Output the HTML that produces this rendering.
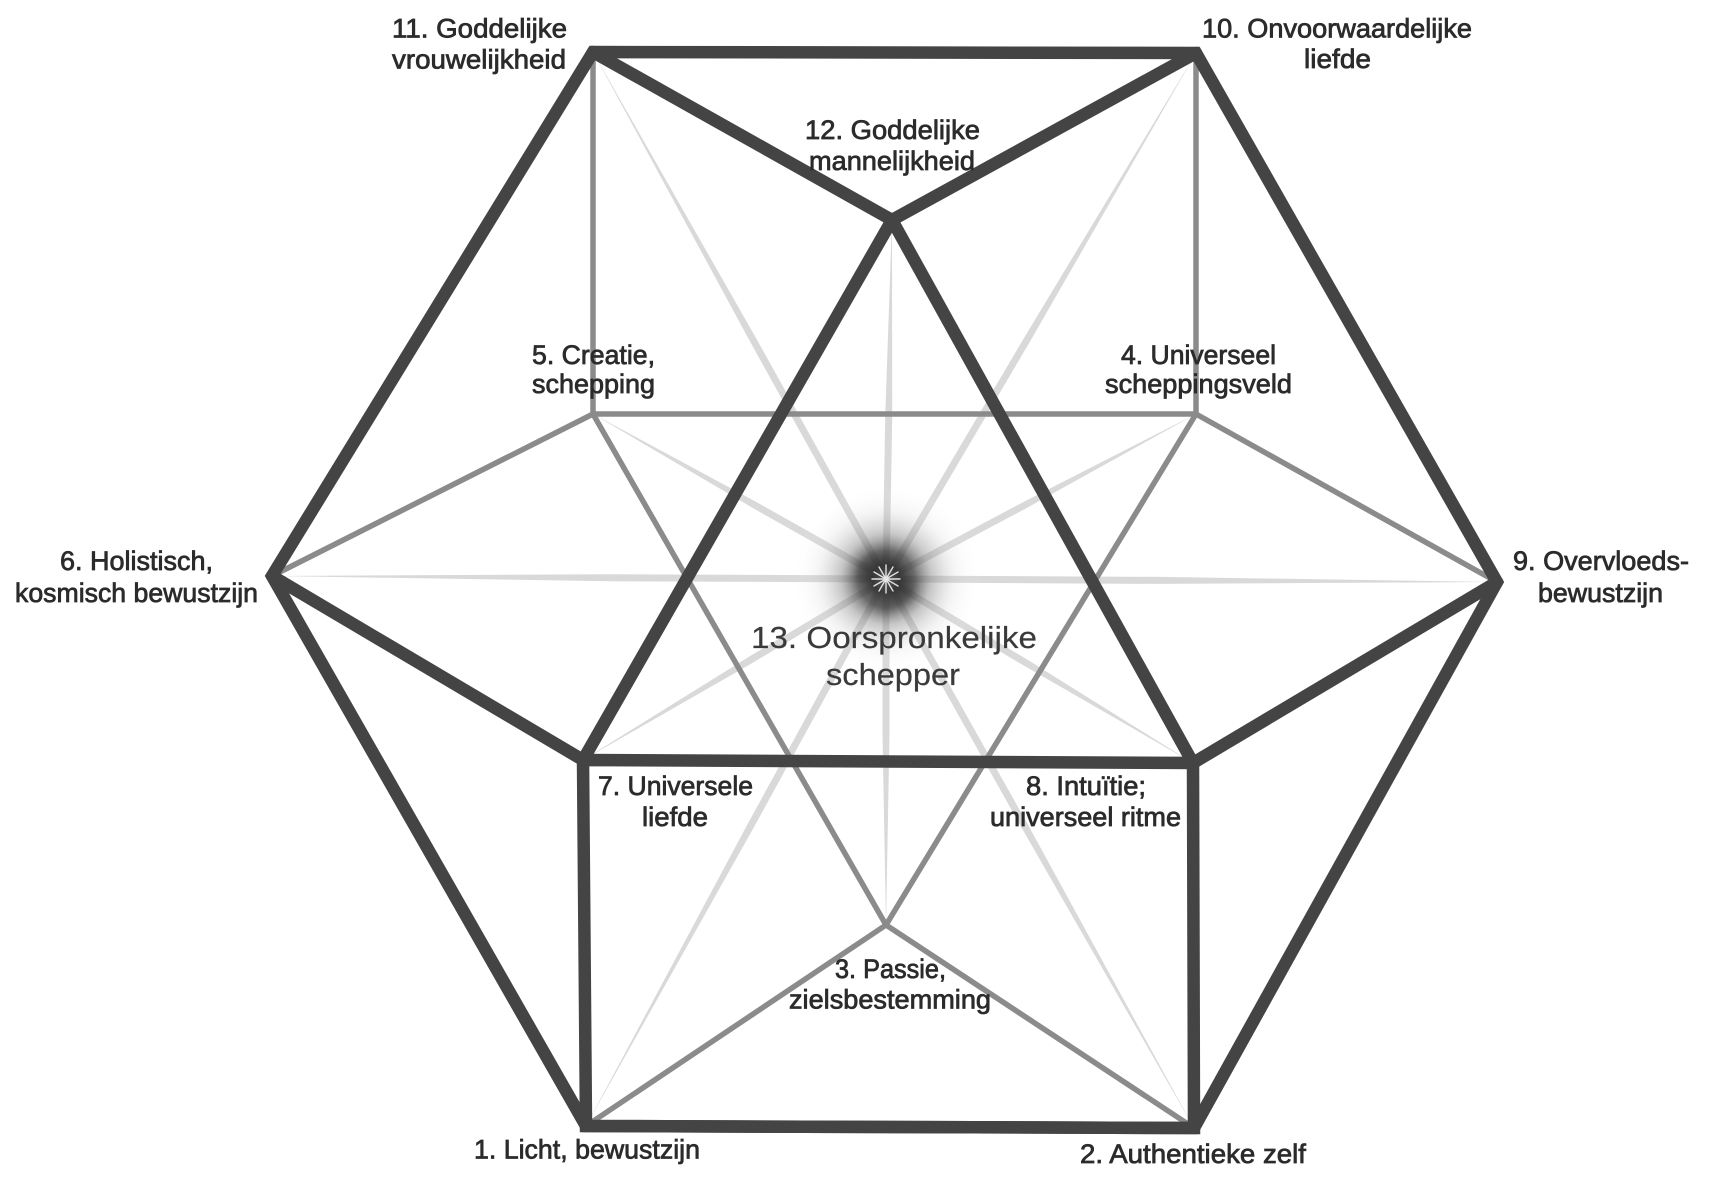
<!DOCTYPE html>
<html>
<head>
<meta charset="utf-8">
<style>
  html, body { margin:0; padding:0; background:#ffffff; }
  body { width:1723px; height:1181px; overflow:hidden; }
  svg { display:block; }
  text { font-family: "Liberation Sans", "DejaVu Sans", sans-serif; fill:#2b2b2b; font-size:26.5px; stroke:#2b2b2b; stroke-width:0.75px; paint-order:stroke; }
  .c13 { font-size:31px; fill:#3a3a3a; stroke:#3a3a3a; stroke-width:0.2px; }
</style>
</head>
<body>
<svg width="1723" height="1181" viewBox="0 0 1723 1181" xmlns="http://www.w3.org/2000/svg">
  <defs>
    <radialGradient id="burst" cx="886" cy="579" r="95" gradientUnits="userSpaceOnUse">
      <stop offset="0" stop-color="#e0e0e0" stop-opacity="1"/>
      <stop offset="0.05" stop-color="#6a6a6a" stop-opacity="0.95"/>
      <stop offset="0.14" stop-color="#2e2e2e" stop-opacity="0.92"/>
      <stop offset="0.3" stop-color="#3c3c3c" stop-opacity="0.75"/>
      <stop offset="0.48" stop-color="#7a7a7a" stop-opacity="0.42"/>
      <stop offset="0.72" stop-color="#bdbdbd" stop-opacity="0.16"/>
      <stop offset="1" stop-color="#ffffff" stop-opacity="0"/>
    </radialGradient>
    <filter id="blur" x="-50%" y="-50%" width="200%" height="200%">
      <feGaussianBlur stdDeviation="6"/>
    </filter>
  </defs>

  <!-- light tapered spokes to center -->
  <g fill="#d9d9d9">
    <polygon points="586,1126 747.9,823.5 882.9,577.3 889.1,580.7 754.1,826.9"/>
    <polygon points="1194,1128 1021.6,827.8 883,580.7 889,577.3 1027.7,824.3"/>
    <polygon points="886,925 882.5,734.7 882.5,579 889.5,579 889.5,734.7"/>
    <polygon points="1196,414 1027.1,507.8 887.6,582.1 884.4,575.9 1023.9,501.7"/>
    <polygon points="593,414 755.9,501.7 887.7,576 884.3,582.1 752.4,507.8"/>
    <polygon points="272,576 609.7,574.2 886,575.5 886,582.5 609.7,581.2"/>
    <polygon points="583,760 747.9,657.4 884.2,576 887.8,582 751.5,663.5"/>
    <polygon points="1193,763 1022.4,664.8 884.2,582 887.8,576 1025.9,658.8"/>
    <polygon points="1497,582 1161,583.9 886,582.5 886,575.5 1161,576.9"/>
    <polygon points="1196,53 1028.5,344.1 889,580.8 883,577.2 1022.5,340.5"/>
    <polygon points="593,52 757.2,340.15 889.1,577.3 882.9,580.7 751.1,343.55"/>
    <polygon points="892,220 892.2,417.5 889.5,579 882.5,579 885.2,417.4"/>
  </g>

  <!-- medium gray lines -->
  <g stroke="#8b8b8b" stroke-width="5.5" stroke-linecap="round" fill="none">
    <line x1="593" y1="52" x2="593" y2="414"/>
    <line x1="1196" y1="53" x2="1196" y2="414"/>
    <line x1="593" y1="414" x2="1196" y2="414"/>
    <line x1="593" y1="414" x2="272" y2="576"/>
    <line x1="1196" y1="414" x2="1497" y2="582"/>
    <line x1="593" y1="414" x2="886" y2="925"/>
    <line x1="1196" y1="414" x2="886" y2="925"/>
    <line x1="886" y1="925" x2="586" y2="1126"/>
    <line x1="886" y1="925" x2="1194" y2="1128"/>
  </g>

  <!-- thick dark lines -->
  <g stroke="#444444" stroke-width="12.5" fill="none">
    <path d="M593,52 L1196,53 L1497,582 L1194,1128 L586,1126 L272,576 Z" stroke-linejoin="miter" stroke-miterlimit="10"/>
    <path d="M583,760 L1193,763 L1194,1128 L586,1126 Z" stroke-linejoin="miter" stroke-miterlimit="10"/>
    <g stroke-linecap="round">
      <polyline points="593,52 892,220 1196,53" stroke-linejoin="miter"/>
      <line x1="892" y1="220" x2="583" y2="760"/>
      <line x1="892" y1="220" x2="1193" y2="763"/>
      <line x1="272" y1="576" x2="583" y2="760"/>
      <line x1="1497" y1="582" x2="1193" y2="763"/>
    </g>
  </g>

  <!-- central starburst -->
  <circle cx="886" cy="579" r="95" fill="url(#burst)"/>
  <g filter="url(#blur)" opacity="0.55">
    <ellipse cx="880" cy="572" rx="22" ry="16" fill="#333"/>
    <ellipse cx="896" cy="590" rx="18" ry="14" fill="#333"/>
    <ellipse cx="886" cy="602" rx="10" ry="10" fill="#444"/>
  </g>
  <g stroke="#f4f4f4" stroke-width="1.4" stroke-linecap="round" opacity="0.9">
    <line x1="872" y1="579" x2="900" y2="579"/>
    <line x1="886" y1="565" x2="886" y2="593"/>
    <line x1="879" y1="567" x2="893" y2="591"/>
    <line x1="893" y1="567" x2="879" y2="591"/>
    <line x1="874" y1="572" x2="898" y2="586"/>
    <line x1="898" y1="572" x2="874" y2="586"/>
  </g>

  <!-- labels -->
  <text x="392" y="37.5" textLength="175" lengthAdjust="spacingAndGlyphs">11. Goddelijke</text>
  <text x="392" y="68.6" textLength="174" lengthAdjust="spacingAndGlyphs">vrouwelijkheid</text>

  <text x="1202" y="37.5" textLength="270" lengthAdjust="spacingAndGlyphs">10. Onvoorwaardelijke</text>
  <text x="1304" y="68" textLength="67" lengthAdjust="spacingAndGlyphs">liefde</text>

  <text x="805" y="139" textLength="175" lengthAdjust="spacingAndGlyphs">12. Goddelijke</text>
  <text x="809" y="170" textLength="166" lengthAdjust="spacingAndGlyphs">mannelijkheid</text>

  <text x="532" y="364" textLength="123" lengthAdjust="spacingAndGlyphs">5. Creatie,</text>
  <text x="532" y="393" textLength="123" lengthAdjust="spacingAndGlyphs">schepping</text>

  <text x="1121" y="364" textLength="155" lengthAdjust="spacingAndGlyphs">4. Universeel</text>
  <text x="1105" y="393" textLength="187" lengthAdjust="spacingAndGlyphs">scheppingsveld</text>

  <text x="60" y="570" textLength="153" lengthAdjust="spacingAndGlyphs">6. Holistisch,</text>
  <text x="15" y="602" textLength="243" lengthAdjust="spacingAndGlyphs">kosmisch bewustzijn</text>

  <text x="1513" y="570" textLength="176" lengthAdjust="spacingAndGlyphs">9. Overvloeds-</text>
  <text x="1538" y="602" textLength="125" lengthAdjust="spacingAndGlyphs">bewustzijn</text>

  <text class="c13" x="751" y="648" textLength="286" lengthAdjust="spacingAndGlyphs">13. Oorspronkelijke</text>
  <text class="c13" x="826" y="685" textLength="134" lengthAdjust="spacingAndGlyphs">schepper</text>

  <text x="598" y="795" textLength="155" lengthAdjust="spacingAndGlyphs">7. Universele</text>
  <text x="642" y="826" textLength="66" lengthAdjust="spacingAndGlyphs">liefde</text>

  <text x="1026" y="795" textLength="120" lengthAdjust="spacingAndGlyphs">8. Intuïtie;</text>
  <text x="990" y="826" textLength="191" lengthAdjust="spacingAndGlyphs">universeel ritme</text>

  <text x="835" y="978" textLength="111" lengthAdjust="spacingAndGlyphs">3. Passie,</text>
  <text x="789" y="1008.5" textLength="202" lengthAdjust="spacingAndGlyphs">zielsbestemming</text>

  <text x="474" y="1158.5" textLength="226" lengthAdjust="spacingAndGlyphs">1. Licht, bewustzijn</text>
  <text x="1080" y="1163" textLength="226" lengthAdjust="spacingAndGlyphs">2. Authentieke zelf</text>
</svg>
</body>
</html>
